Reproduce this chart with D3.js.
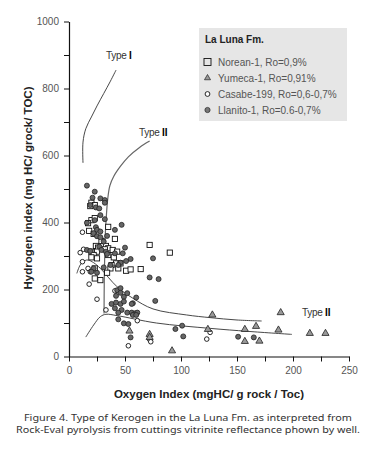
<!DOCTYPE html>
<html>
<head>
<meta charset="utf-8">
<style>
  body { margin: 0; background: #fff; }
  svg { display: block; }
  .tick text { fill: #555; font-family: "Liberation Sans", Arial, sans-serif; font-size: 10px; }
  .domain, .tick line { stroke: #111; }
</style>
</head>
<body>
<svg id="chart" width="368" height="467"></svg>
<script src="https://d3js.org/d3.v7.min.js"></script>
<script>
// [Oxygen index, Hydrogen index]
const norean = [
  [20,459],[23,452],[19,449],[20,407],[23,413],[17,398],[35,387],[18,375],[22,366],[41,351],
  [29,345],[24,330],[26,325],[33,330],[35,323],[20,313],[25,313],[22,303],[32,320],[39,318],
  [43,313],[35,303],[40,296],[72,333],[90,310],[20,296],[25,293],[42,278],[46,278],[38,273],
  [37,263],[44,263],[51,256],[55,260],[64,261],[34,250],[23,263],[23,233],[28,228]
]
const yumeca = [
  [54,76],[72,66],[72,57],[92,17],[128,124],[124,81],[157,81],[167,90],[157,45],[170,46],
  [187,79],[189,131],[215,69],[229,69]
]
const casabe = [
  [12,371],[10,310],[13,320],[12,283],[17,263],[12,253],[19,253],[18,216],[25,171],[41,196],
  [33,139],[61,107],[53,32],[72,51],[73,44],[123,52],[126,72]
]
const llanito = [
  [16,510],[23,492],[21,474],[28,472],[32,467],[32,459],[19,452],[24,445],[27,442],[28,422],
  [32,410],[16,399],[23,407],[47,393],[41,378],[24,386],[25,378],[28,373],[22,368],[25,359],
  [28,356],[34,360],[31,343],[50,325],[27,328],[29,318],[16,318],[19,315],[33,313],[34,306],
  [41,308],[48,308],[55,291],[75,293],[51,285],[46,280],[44,273],[37,273],[22,263],[20,253],
  [25,250],[31,266],[72,236],[80,231],[43,198],[46,204],[46,190],[42,181],[49,178],[52,189],
  [60,176],[57,159],[77,166],[38,157],[42,161],[46,157],[49,164],[41,144],[47,139],[44,131],
  [52,131],[56,131],[59,129],[61,131],[57,124],[60,124],[56,157],[44,111],[49,99],[53,97],
  [55,57],[95,82],[101,92],[102,60],[151,59],[165,57]
]

// reference curves
const typeI = [[12.5,578],[12.5,640],[15,680],[20,715],[25,748],[31,785],[37,822],[42,855]]
const typeII = [[72,643],[63,624],[53,596],[46,568],[40,538],[36.5,510],[34.5,468],[33.5,427],[32.5,370],[32,318],[31.5,230],[31.3,128]]
const typeIIIupper = [[7,248],[10,273],[14,286],[17,288],[22,280],[28,263],[43,208],[57,174],[75,142],[105,124],[126,116],[150,109],[172,106]]
const typeIIIlower = [[15,58],[22,94],[28,119],[33,126],[43,122],[78,100],[126,84],[160,75],[199,66]]

const xTicks = [0,25,50,75,100,125,150,175,200,225,250]
const yTicks = [0,100,200,300,400,500,600,700,800,900,1000]

const legendTitle = 'La Luna  Fm.'
const legendLabels = ['Norean-1, Ro=0,9%', 'Yumeca-1, Ro=0,91%', 'Casabe-199, Ro=0,6-0,7%', 'Llanito-1, Ro=0.6-0,7%']
const captionLines = [
  'Figure 4. Type of Kerogen in the La Luna Fm. as interpreted from',
  'Rock-Eval pyrolysis from cuttings vitrinite reflectance phown by well.'
]

const svg = d3.select('#chart')

const x = d3.scaleLinear().domain([0,250]).range([69,349])
const y = d3.scaleLinear().domain([0,1000]).range([356.5,21.5])

// axes
svg.append('g')
   .attr('transform', 'translate(0,356.5)')
   .call(d3.axisBottom(x).tickValues(xTicks).tickFormat(d => d % 50 === 0 ? d : '').tickSize(5).tickSizeOuter(0))
   .call(g => g.selectAll('.tick text').attr('dy', '0.95em'))

svg.append('g')
   .attr('transform', 'translate(69,0)')
   .call(d3.axisLeft(y).tickValues(yTicks).tickFormat(d => d % 200 === 0 ? d : '').tickSize(5).tickSizeOuter(0))
   .call(g => g.selectAll('.tick text').attr('dx', '-0.2em'))

svg.selectAll('.domain').attr('stroke-width', 1.2)

// curves
const lineGen = d3.line()
                  .x(d => x(d[0]))
                  .y(d => y(d[1]))
                  .curve(d3.curveCatmullRom)

svg.selectAll('.curve')
   .data([typeI, typeII, typeIIIupper, typeIIIlower])
   .join('path')
   .attr('class', 'curve')
   .attr('d', lineGen)
   .attr('fill', 'none')
   .attr('stroke', (d, i) => i === 1 ? '#666' : '#333')
   .attr('stroke-width', (d, i) => i === 1 ? 1.2 : 0.9)

// curve labels
const curveLabels = [
  {t: 'Type ', b: 'I', x: 106, y: 59},
  {t: 'Type ', b: 'II', x: 139, y: 136},
  {t: 'Type ', b: 'II', x: 302, y: 316}
]
const cl = svg.selectAll('.clabel')
   .data(curveLabels)
   .join('text')
   .attr('x', d => d.x)
   .attr('y', d => d.y)
   .attr('font-family', 'Liberation Sans, Arial, sans-serif')
   .attr('font-size', 10)
   .attr('fill', '#333')
cl.append('tspan').text(d => d.t).attr('letter-spacing', -0.3)
cl.append('tspan').text(d => d.b).attr('font-weight', 'bold').attr('fill', '#000')

// points
const sym = d3.symbol()
const pts = svg.append('g')

pts.selectAll('.sq')
   .data(norean)
   .join('rect')
   .attr('x', d => x(d[0]) - 2.6)
   .attr('y', d => y(d[1]) - 2.6)
   .attr('width', 5.2)
   .attr('height', 5.2)
   .attr('fill', '#fff')
   .attr('stroke', '#111')
   .attr('stroke-width', 0.9)

pts.selectAll('.oc')
   .data(casabe)
   .join('circle')
   .attr('cx', d => x(d[0]))
   .attr('cy', d => y(d[1]))
   .attr('r', 2.3)
   .attr('fill', '#fff')
   .attr('stroke', '#111')
   .attr('stroke-width', 0.9)

pts.selectAll('.fc')
   .data(llanito)
   .join('circle')
   .attr('cx', d => x(d[0]))
   .attr('cy', d => y(d[1]))
   .attr('r', 2.5)
   .attr('fill', '#666')
   .attr('stroke', '#222')
   .attr('stroke-width', 0.8)

pts.selectAll('.tr')
   .data(yumeca)
   .join('path')
   .attr('d', sym.type(d3.symbolTriangle).size(22))
   .attr('transform', d => `translate(${x(d[0])},${y(d[1])})`)
   .attr('fill', '#999')
   .attr('stroke', '#222')
   .attr('stroke-width', 0.8)

// axis titles
svg.append('text')
   .attr('x', 209).attr('y', 398)
   .attr('text-anchor', 'middle')
   .attr('font-family', 'Liberation Sans, Arial, sans-serif')
   .attr('font-weight', 'bold').attr('font-size', 11.5)
   .attr('fill', '#222')
   .text('Oxygen Index (mgHC/ g rock / Toc)')

svg.append('text')
   .attr('transform', 'translate(32,188) rotate(-90)')
   .attr('text-anchor', 'middle')
   .attr('font-family', 'Liberation Sans, Arial, sans-serif')
   .attr('font-weight', 'bold').attr('font-size', 11.5)
   .attr('fill', '#222')
   .text('Hydrogen index (mg HC/ grock/ TOC)')

// legend
const lg = svg.append('g')
lg.append('rect')
  .attr('x', 199).attr('y', 28).attr('width', 148).attr('height', 93)
  .attr('fill', '#e6e6e6')
lg.append('text')
  .attr('x', 205).attr('y', 43)
  .attr('font-family', 'Liberation Sans, Arial, sans-serif')
  .attr('font-weight', 'bold').attr('font-size', 10)
  .attr('fill', '#222')
  .text(legendTitle)

const ly = d3.scalePoint().domain(legendLabels).range([62,110])
lg.selectAll('.ltext')
  .data(legendLabels)
  .join('text')
  .attr('x', 218)
  .attr('y', d => ly(d) + 3.5)
  .attr('font-family', 'Liberation Sans, Arial, sans-serif')
  .attr('font-size', 10)
  .attr('fill', '#555')
  .text(d => d)

lg.append('rect')
  .attr('x', 204).attr('y', ly(legendLabels[0]) - 3.5).attr('width', 7).attr('height', 7)
  .attr('fill', 'none').attr('stroke', '#111').attr('stroke-width', 0.9)
lg.append('path')
  .attr('d', sym.type(d3.symbolTriangle).size(16))
  .attr('transform', `translate(207.5,${ly(legendLabels[1])})`)
  .attr('fill', '#999').attr('stroke', '#222').attr('stroke-width', 0.7)
lg.append('circle')
  .attr('cx', 207.5).attr('cy', ly(legendLabels[2])).attr('r', 2.4)
  .attr('fill', '#fff').attr('stroke', '#111').attr('stroke-width', 0.9)
lg.append('circle')
  .attr('cx', 207.5).attr('cy', ly(legendLabels[3])).attr('r', 2.6)
  .attr('fill', '#777').attr('stroke', '#333').attr('stroke-width', 0.8)

// caption
svg.selectAll('.cap')
   .data(captionLines)
   .join('text')
   .attr('x', 188)
   .attr('y', (d, i) => 421 + i * 11.5)
   .attr('text-anchor', 'middle')
   .attr('font-family', 'Noto Sans, DejaVu Sans, sans-serif')
   .attr('font-size', 9)
   .attr('fill', '#333')
   .attr('textLength', (d, i) => i === 0 ? 328 : 344)
   .attr('lengthAdjust', 'spacingAndGlyphs')
   .text(d => d)
</script>
</body>
</html>
